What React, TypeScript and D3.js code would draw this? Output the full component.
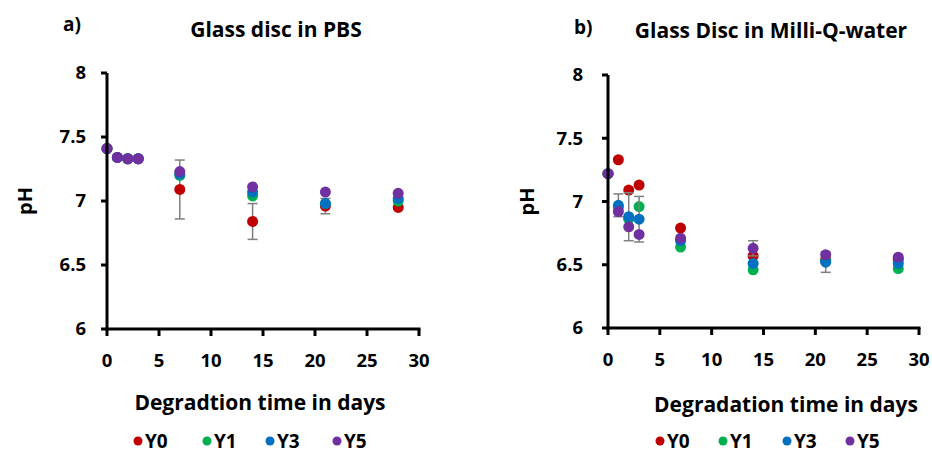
import React from "react";
import * as d3 from "d3";

const days = [0, 1, 2, 3, 7, 14, 21, 28];
const seriesNames = ["Y0", "Y1", "Y3", "Y5"];
const seriesColors = ["#c00000", "#00b050", "#0070c0", "#7030a0"];
const yTicks = [6, 6.5, 7, 7.5, 8];
const xTicks = [0, 5, 10, 15, 20, 25, 30];

// Panel a: Glass disc in PBS
const pbsY0 = [7.41, 7.34, 7.33, 7.33, 7.09, 6.84, 6.96, 6.95];
const pbsY1 = [7.41, 7.34, 7.33, 7.33, 7.2, 7.04, 6.98, 7.0];
const pbsY3 = [7.41, 7.34, 7.33, 7.33, 7.21, 7.07, 6.98, 7.02];
const pbsY5 = [7.41, 7.34, 7.33, 7.33, 7.23, 7.11, 7.07, 7.06];
const pbsErrY0 = [0, 0, 0, 0, 0.23, 0.14, 0.06, 0];
const pbsErrY1 = [0, 0, 0, 0, 0, 0, 0, 0];
const pbsErrY3 = [0, 0, 0, 0, 0, 0, 0, 0];
const pbsErrY5 = [0, 0, 0, 0, 0, 0, 0, 0];

// Panel b: Glass Disc in Milli-Q-water
const mqY0 = [7.22, 7.33, 7.09, 7.13, 6.79, 6.57, 6.54, 6.54];
const mqY1 = [7.22, 6.95, 6.86, 6.96, 6.64, 6.46, 6.53, 6.47];
const mqY3 = [7.22, 6.97, 6.88, 6.86, 6.69, 6.51, 6.52, 6.51];
const mqY5 = [7.22, 6.92, 6.8, 6.74, 6.71, 6.63, 6.58, 6.56];
const mqErrY0 = [0, 0, 0, 0, 0, 0, 0, 0];
const mqErrY1 = [0, 0, 0, 0, 0, 0, 0, 0];
const mqErrY3 = [0, 0.09, 0.19, 0.18, 0, 0, 0.08, 0];
const mqErrY5 = [0, 0, 0, 0, 0, 0.06, 0, 0];

const FONT = "'Open Sans', Lato, sans-serif";

type PanelProps = {
  letter: string;
  letterX: number;
  letterY: number;
  title: string;
  titleX: number;
  titleY: number;
  x0: number;
  x1: number;
  y0: number;
  y1: number;
  yLabelGap: number;
  pHX: number;
  xTitle: string;
  xTitleX: number;
  xTitleY: number;
  legendXs: number[];
  legendY: number;
  values: number[][];
  errors: number[][];
};

function Panel(p: PanelProps) {
  const x = d3.scaleLinear().domain([0, 30]).range([p.x0, p.x1]);
  const y = d3.scaleLinear().domain([6, 8]).range([p.y1, p.y0]);
  const fmt = (v: number) => String(v);
  return (
    <g>
      <text x={p.letterX} y={p.letterY} fontFamily={FONT} fontWeight="bold" fontSize={19} fill="#000">
        {p.letter}
      </text>
      <text x={p.titleX} y={p.titleY} textAnchor="middle" fontFamily={FONT} fontWeight="bold" fontSize={21} fill="#000">
        {p.title}
      </text>
      {p.values.map((vals, si) => (
        <g key={si}>
          {vals.map((v, i) => {
            const e = p.errors[si][i];
            if (!e) return null;
            const cx = x(days[i]);
            return (
              <g key={"e" + i} stroke="#7f7f7f" strokeWidth={1.5}>
                <line x1={cx} x2={cx} y1={y(v - e)} y2={y(v + e)} />
                <line x1={cx - 5} x2={cx + 5} y1={y(v - e)} y2={y(v - e)} />
                <line x1={cx - 5} x2={cx + 5} y1={y(v + e)} y2={y(v + e)} />
              </g>
            );
          })}
          {vals.map((v, i) => (
            <circle key={"c" + i} cx={x(days[i])} cy={y(v)} r={5.5} fill={seriesColors[si]} />
          ))}
        </g>
      ))}
      <g stroke="#000">
        <line x1={p.x0} x2={p.x0} y1={p.y0} y2={p.y1 + 1.5} strokeWidth={3} />
        <line x1={p.x0 - 1.5} x2={p.x1 + 1.5} y1={p.y1} y2={p.y1} strokeWidth={3} />
        {yTicks.map((t) => (
          <line key={"yt" + t} x1={p.x0 - 6} x2={p.x0} y1={y(t)} y2={y(t)} strokeWidth={3} />
        ))}
        {xTicks.map((t) => (
          <line key={"xt" + t} x1={x(t)} x2={x(t)} y1={p.y1} y2={p.y1 + 7} strokeWidth={3} />
        ))}
      </g>
      {yTicks.map((t) => (
        <text key={"yl" + t} x={p.x0 - p.yLabelGap} y={y(t)} dy="0.35em" textAnchor="end" fontFamily={FONT} fontWeight="bold" fontSize={18.5} fill="#000">
          {fmt(t)}
        </text>
      ))}
      {xTicks.map((t) => (
        <text key={"xl" + t} x={x(t)} y={p.y1 + 32} dy="0.35em" textAnchor="middle" fontFamily={FONT} fontWeight="bold" fontSize={18.5} fill="#000">
          {fmt(t)}
        </text>
      ))}
      <text transform={`translate(${p.pHX},${y(7)}) rotate(-90)`} textAnchor="middle" dy="0.35em" fontFamily={FONT} fontWeight="bold" fontSize={20} fill="#000">
        pH
      </text>
      <text x={p.xTitleX} y={p.xTitleY} dy="0.35em" textAnchor="middle" fontFamily={FONT} fontWeight="bold" fontSize={21} fill="#000">
        {p.xTitle}
      </text>
      {seriesNames.map((n, i) => (
        <g key={n}>
          <circle cx={p.legendXs[i]} cy={p.legendY} r={4.5} fill={seriesColors[i]} />
          <text x={p.legendXs[i] + 7} y={p.legendY} dy="0.35em" fontFamily={FONT} fontWeight="bold" fontSize={19} fill="#000">
            {n}
          </text>
        </g>
      ))}
    </g>
  );
}

export default function App() {
  return (
    <svg width={932} height={454} style={{ position: "absolute", left: 0, top: 0, background: "#fff" }}>
      <rect width={932} height={454} fill="#fff" />
      <Panel
        letter="a)"
        letterX={63}
        letterY={31}
        title="Glass disc in PBS"
        titleX={276}
        titleY={37}
        x0={107}
        x1={419}
        y0={73}
        y1={329}
        yLabelGap={21}
        pHX={25}
        xTitle="Degradtion time in days"
        xTitleX={260}
        xTitleY={403}
        legendXs={[138, 207, 270, 337]}
        legendY={441}
        values={[pbsY0, pbsY1, pbsY3, pbsY5]}
        errors={[pbsErrY0, pbsErrY1, pbsErrY3, pbsErrY5]}
      />
      <Panel
        letter="b)"
        letterX={574}
        letterY={34}
        title="Glass Disc in Milli-Q-water"
        titleX={771}
        titleY={38}
        x0={608}
        x1={919}
        y0={75}
        y1={328}
        yLabelGap={25}
        pHX={527}
        xTitle="Degradation time in days"
        xTitleX={786}
        xTitleY={405}
        legendXs={[660, 723, 787, 850]}
        legendY={441}
        values={[mqY0, mqY1, mqY3, mqY5]}
        errors={[mqErrY0, mqErrY1, mqErrY3, mqErrY5]}
      />
    </svg>
  );
}
